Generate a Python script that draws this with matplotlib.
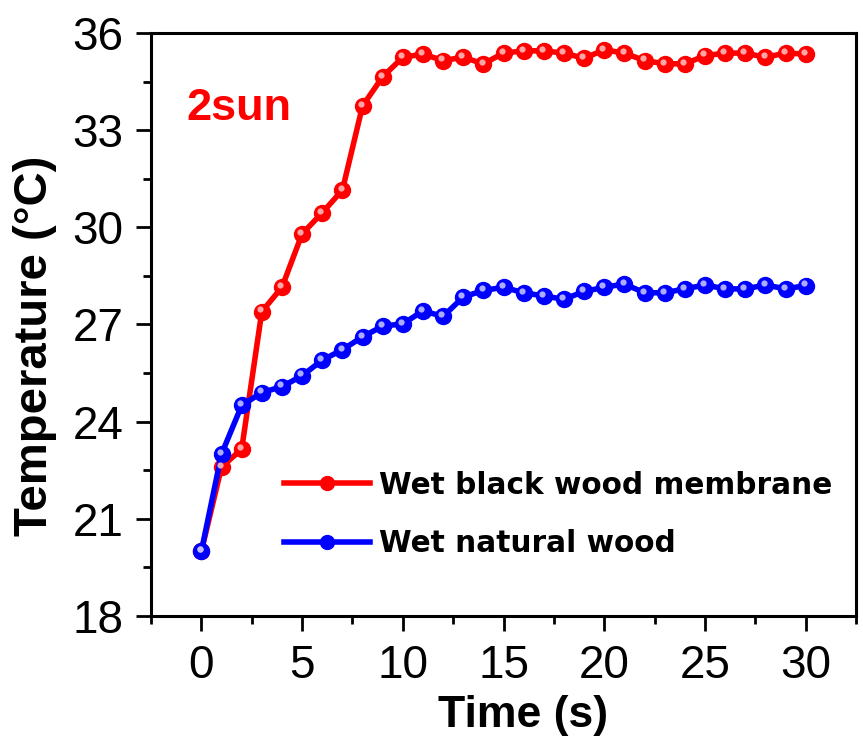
import matplotlib
matplotlib.use("Agg")
import matplotlib.pyplot as plt
from matplotlib.ticker import MultipleLocator
from matplotlib.transforms import offset_copy
from matplotlib.lines import Line2D

# Temperature over time under 2 sun illumination
time_s = list(range(0, 31))
black_membrane = [20.0, 22.6, 23.15, 27.4, 28.15, 29.8, 30.45, 31.15, 33.75, 34.65,
                  35.25, 35.35, 35.15, 35.25, 35.05, 35.38, 35.45, 35.45, 35.38, 35.22,
                  35.48, 35.38, 35.15, 35.05, 35.05, 35.3, 35.38, 35.38, 35.25, 35.38,
                  35.35]
natural_wood = [20.0, 23.0, 24.5, 24.9, 25.08, 25.42, 25.9, 26.22, 26.62, 26.95,
                27.02, 27.42, 27.25, 27.85, 28.05, 28.15, 27.98, 27.88, 27.78, 28.02,
                28.15, 28.25, 27.98, 27.98, 28.1, 28.22, 28.1, 28.1, 28.22, 28.1,
                28.2]
series_labels = ["Wet black wood membrane", "Wet natural wood"]
series_colors = ["#ff0000", "#0000ff"]
highlight_colors = ["#ffb8b8", "#c0c0ff"]
x_ticks = [0, 5, 10, 15, 20, 25, 30]
y_ticks = [18, 21, 24, 27, 30, 33, 36]

fig = plt.figure(figsize=(8.63, 7.47), dpi=100)
ax = fig.add_axes([0.175, 0.1754, 0.817, 0.7804])

for data, col, hcol in zip([black_membrane, natural_wood], series_colors, highlight_colors):
    ax.plot(time_s, data, color=col, lw=4.0, marker="o", ms=11.5,
            mec=col, mfc=col, solid_joinstyle="round", zorder=3)
    # glossy highlight on each bead
    hl = offset_copy(ax.transData, fig=fig, x=-1.8, y=2.2, units="dots")
    ax.plot(time_s, data, ls="none", marker="o", ms=4.5, mfc=hcol, mec="none",
            alpha=0.9, transform=hl, zorder=4)

ax.set_xlim(-2.5, 32.5)
ax.set_ylim(18, 36)
ax.xaxis.set_major_locator(MultipleLocator(5))
ax.xaxis.set_minor_locator(MultipleLocator(2.5))
ax.yaxis.set_major_locator(MultipleLocator(3))
ax.yaxis.set_minor_locator(MultipleLocator(1.5))
ax.set_xticks(x_ticks)
ax.set_yticks(y_ticks)

for s in ax.spines.values():
    s.set_linewidth(2.2)
ax.tick_params(which="major", direction="out", length=11, width=2, pad=9,
               labelsize=33, top=False, right=False)
ax.tick_params(which="minor", direction="out", length=6, width=2,
               top=False, right=False)
for lbl in ax.get_xticklabels() + ax.get_yticklabels():
    lbl.set_family("Liberation Sans")

ax.set_xlabel("Time (s)", fontsize=32, fontweight="bold", family="Liberation Sans")
ax.xaxis.set_label_coords(0.528, -0.135)
ax.set_ylabel("Temperature (°C)", fontsize=34, fontweight="bold",
              family="Liberation Sans")
ax.yaxis.set_label_coords(-0.134, 0.463)

ax.text(0.05, 0.85, "2sun", transform=ax.transAxes, color="#ff0000",
        fontsize=32.5, fontweight="bold", family="Liberation Sans")

handles = []
for col, hcol in zip(series_colors, highlight_colors):
    handles.append(Line2D([], [], color=col, lw=4, marker="o", ms=10,
                          mfc=col, mec=col))
leg = ax.legend(handles, series_labels, loc="upper left",
                bbox_to_anchor=(0.189, 0.249), frameon=False,
                prop={"family": "DejaVu Sans", "weight": "bold", "size": 21.3},
                handlelength=2.9, handletextpad=0.3, labelspacing=1.0,
                borderaxespad=0, borderpad=0)

fig.savefig("out.png", dpi=100)
